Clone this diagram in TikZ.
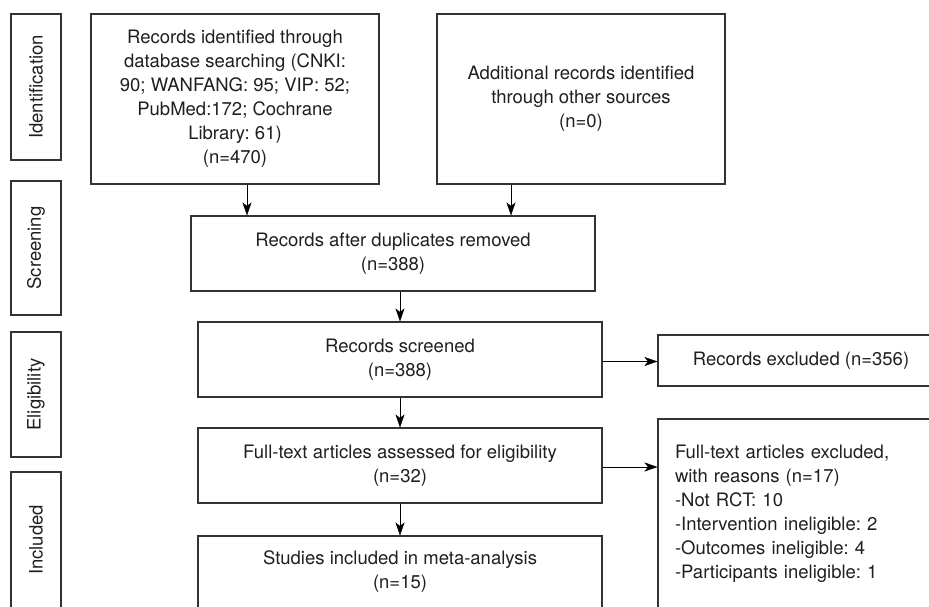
\documentclass[tikz,border=0pt]{standalone}
\usepackage{fontspec}
\setmainfont{TeX Gyre Heros}
\usetikzlibrary{arrows.meta}
\frenchspacing

\begin{document}
\begin{tikzpicture}[x=1pt,y=-1pt,->,>={Stealth[length=13pt,width=9pt,inset=3.5pt]},
  box/.style={draw=black!80,line width=1.1pt,align=center,inner sep=0pt,
    text=black!88,font=\fontsize{18.5}{24}\selectfont},
  phase/.style={box,rotate=90,minimum height=50}]
\useasboundingbox (0,0) rectangle (929,606);
\clip (0,0) rectangle (929,606);
% phase labels on the left
\node[phase,minimum width=146] (idphase) at (36,87) {Identification};
\node[phase,minimum width=134] (scphase) at (36,248) {Screening};
\node[phase,minimum width=125] (elphase) at (36,394.5) {Eligibility};
\node[phase,minimum width=136] (inphase) at (36,540) {Included};
% main flow
\node[box,minimum width=288,minimum height=170] (idbox) at (235,99)
  {Records identified through\\database searching (CNKI:\\90; WANFANG: 95; VIP: 52;\\PubMed:172; Cochrane\\Library: 61)\\(n=470)};
\node[box,minimum width=288,minimum height=170] (addbox) at (581,99)
  {Additional records identified\\through other sources\\(n=0)};
\node[box,minimum width=404,minimum height=75] (dupbox) at (393,253.5)
  {Records after duplicates removed\\(n=388)};
\node[box,minimum width=404,minimum height=75] (scrbox) at (400,359.5)
  {Records screened\\(n=388)};
\node[box,minimum width=404,minimum height=75] (ftbox) at (400,465.5)
  {Full-text articles assessed for eligibility\\(n=32)};
\node[box,minimum width=404,minimum height=72] (incbox) at (400,572)
  {Studies included in meta-analysis\\(n=15)};
% exclusions on the right
\node[box,minimum width=286,minimum height=51] (exbox) at (801,360.5)
  {Records excluded (n=356)};
\node[box,minimum width=286,minimum height=190,text width=252,align=left] (ftexbox) at (801,514)
  {Full-text articles excluded,\\with reasons (n=17)\\-Not RCT: 10\\-Intervention ineligible: 2\\-Outcomes ineligible: 4\\-Participants ineligible: 1};
% arrows
\draw ([xshift=12]idbox.south) -- ([xshift=12]idbox.south |- dupbox.north);
\draw ([xshift=-70]addbox.south) -- ([xshift=-70]addbox.south |- dupbox.north);
\draw (scrbox.north |- dupbox.south) -- (scrbox.north);
\draw (scrbox.south) -- (ftbox.north);
\draw (ftbox.south) -- (incbox.north);
\draw ([yshift=-2]scrbox.east) -- ([yshift=-2]scrbox.east -| exbox.west);
\draw ([yshift=-1.5]ftbox.east) -- ([yshift=-1.5]ftbox.east -| ftexbox.west);
\end{tikzpicture}
\end{document}
